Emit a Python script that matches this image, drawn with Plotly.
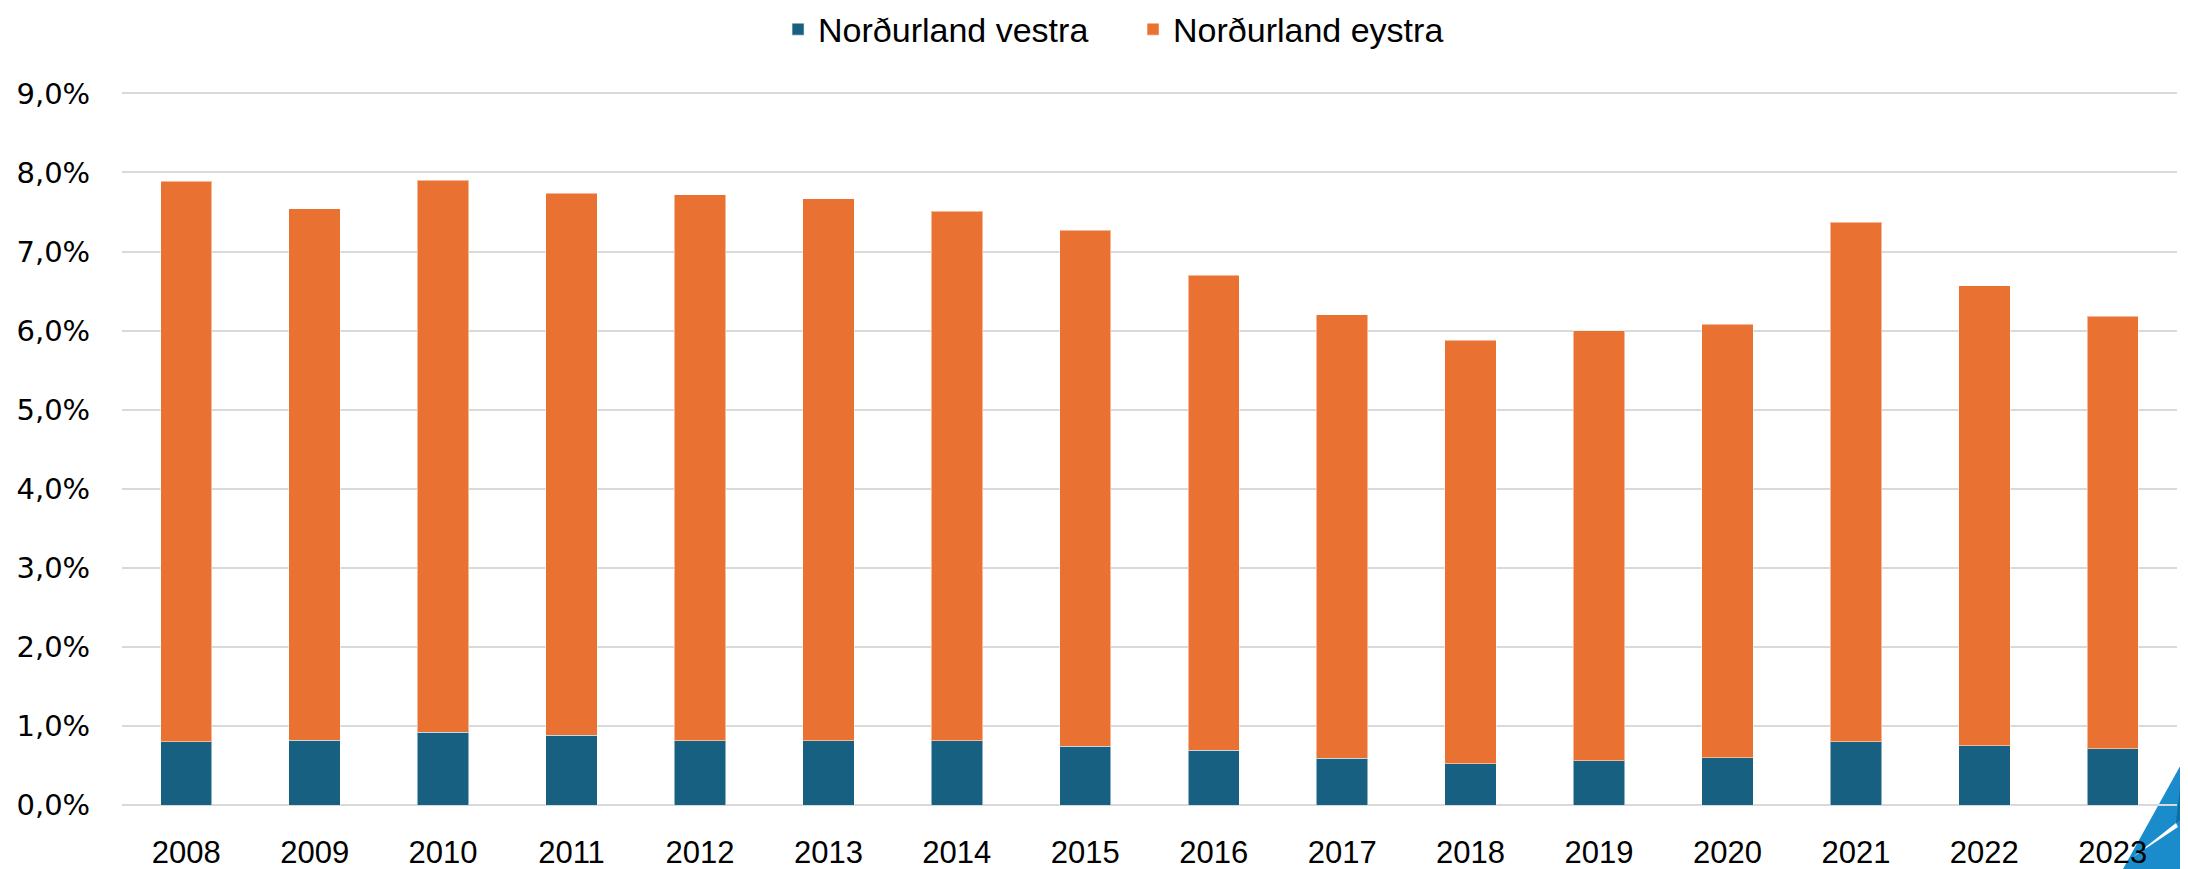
import plotly.graph_objects as go

years = ["2008", "2009", "2010", "2011", "2012", "2013", "2014", "2015",
         "2016", "2017", "2018", "2019", "2020", "2021", "2022", "2023"]
# share (%) of each region
vestra = [0.80, 0.82, 0.92, 0.88, 0.81, 0.81, 0.81, 0.74,
          0.69, 0.59, 0.52, 0.56, 0.60, 0.80, 0.75, 0.71]
total = [7.89, 7.54, 7.90, 7.74, 7.72, 7.67, 7.51, 7.27,
         6.70, 6.20, 5.88, 6.00, 6.08, 7.37, 6.57, 6.18]
eystra = [round(t - v, 2) for t, v in zip(total, vestra)]

series_names = ["Norðurland vestra", "Norðurland eystra"]
colors = ["#176082", "#E97132"]

fig = go.Figure()
fig.add_trace(go.Bar(x=years, y=[v / 100 for v in vestra], name=series_names[0],
                     marker=dict(color=colors[0], line=dict(width=1, color="rgba(255,255,255,0.5)"))))
fig.add_trace(go.Bar(x=years, y=[v / 100 for v in eystra], name=series_names[1],
                     marker=dict(color=colors[1], line=dict(width=1, color="rgba(255,255,255,0.5)"))))

# the page body adds an 8px margin, so the figure is sized 8px smaller
fig.update_layout(
    barmode="stack",
    bargap=0.6,
    width=2180, height=861,
    margin=dict(l=114, r=11, t=83, b=64, autoexpand=False),
    paper_bgcolor="white", plot_bgcolor="white",
    separators=",.",
    showlegend=True,
    legend=dict(orientation="h", x=0.492, xanchor="center",
                yref="container", y=0.975, yanchor="middle",
                font=dict(family="Liberation Sans, Arial, sans-serif", size=34, color="#000000"),
                traceorder="normal", itemwidth=30,
                entrywidth=310, entrywidthmode="pixels"),
    xaxis=dict(showgrid=False, showline=False, zeroline=False, automargin=False,
               tickfont=dict(family="Liberation Sans, Arial, sans-serif", size=31, color="#000000"),
               ticks="outside", ticklen=20, tickcolor="rgba(0,0,0,0)"),
    yaxis=dict(range=[0, 0.0903], tickvals=[i / 100 for i in range(10)], tickformat=".1%",
               showgrid=True, gridcolor="#D9D9D9", gridwidth=2,
               zeroline=True, zerolinecolor="#D9D9D9", zerolinewidth=2,
               showline=False, automargin=False,
               tickfont=dict(family="DejaVu Sans, sans-serif", size=29, color="#000000"),
               ticks="outside", ticklen=25, tickcolor="rgba(0,0,0,0)"),
)

# decorative logo in the bottom-right corner (drawn beneath the tick labels)
fig.add_shape(type="path", xref="paper", yref="paper",
              path="M 1.0029 0.0616 L 0.9737 -0.0896 L 1.0054 -0.0896 Z",
              fillcolor="#1A8CCB", line=dict(width=0), layer="below")
fig.add_shape(type="path", xref="paper", yref="paper",
              path="M 1.0029 0.0616 L 1.0054 0.049 L 1.0054 -0.014 L 0.9995 -0.0252 Z",
              fillcolor="#0B6EA6", line=dict(width=0), layer="below")
fig.add_shape(type="path", xref="paper", yref="paper",
              path="M 0.9995 -0.0252 L 1.0005 -0.0308 L 0.9786 -0.0728 Z",
              fillcolor="#FFFFFF", line=dict(width=0), layer="below")

fig.write_html("out.html")
